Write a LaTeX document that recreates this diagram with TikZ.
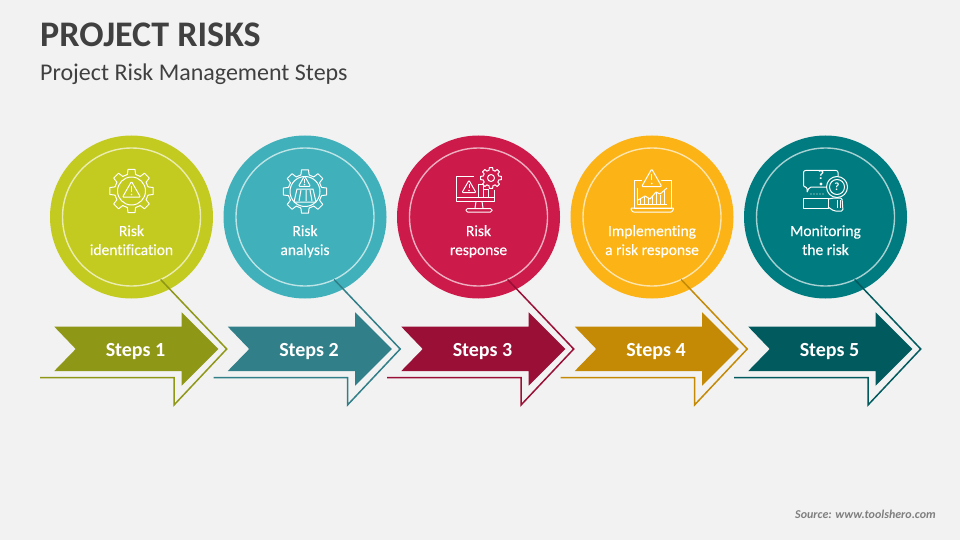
\documentclass[tikz,border=0pt]{standalone}
\usepackage{fontspec}
\setmainfont[Ligatures=CommonOff]{Carlito}
\newfontfamily\riskfont[Ligatures=CommonOff,FakeBold=0.3]{Carlito}
\usetikzlibrary{calc}
\definecolor{pagebg}{HTML}{F2F2F2}
\definecolor{titlegray}{HTML}{404040}
\definecolor{srcgray}{HTML}{7F7F7F}
\definecolor{fillA}{HTML}{C3CA20}
\definecolor{fillB}{HTML}{40B0BA}
\definecolor{fillC}{HTML}{CC1A4A}
\definecolor{fillD}{HTML}{FBB316}
\definecolor{fillE}{HTML}{007B7F}
\definecolor{darkA}{HTML}{8F9716}
\definecolor{darkB}{HTML}{317F88}
\definecolor{darkC}{HTML}{990F35}
\definecolor{darkD}{HTML}{C48A05}
\definecolor{darkE}{HTML}{005A5E}
\tikzset{
  bigcirc/.style={circle,minimum size=163pt,inner sep=0pt,outer sep=0pt},
  ringcirc/.style={circle,minimum size=138pt,inner sep=0pt,outer sep=0pt,draw=white,draw opacity=0.65,line width=1.4pt},
  risklabel/.style={text=white,align=center,anchor=base,inner sep=0pt,font=\riskfont\fontsize{15.5}{19}\selectfont},
  steplabel/.style={text=white,anchor=base,inner sep=0pt,font=\fontsize{20}{24}\selectfont\bfseries},
  iconline/.style={draw=white,line width=1pt,line join=round},
  leader/.style={line width=1.5pt,line join=miter}
}
% gear: centre x, y, outer radius, body radius
\newcommand{\gearicon}[4]{
  \draw[iconline,shift={(#1,#2)}] (-14:#4)
    \foreach \k in {0,...,7}{ -- ({45*\k-14}:#4) -- ({45*\k-9}:#3) -- ({45*\k+9}:#3) -- ({45*\k+14}:#4)} -- cycle;
}
% warning triangle: centre x, y, half width
\newcommand{\warnicon}[3]{
  \begin{scope}[shift={(#1,#2)}]
    \draw[iconline,rounded corners=1pt] (0,{-0.95*#3}) -- (#3,{0.8*#3}) -- (-#3,{0.8*#3}) -- cycle;
    \draw[iconline] (0,{-0.4*#3}) -- (0,{0.2*#3});
    \fill[white] (0,{0.5*#3}) circle (0.9);
  \end{scope}
}
\begin{document}
\begin{tikzpicture}[x=1pt,y=-1pt]
  \fill[pagebg] (0,0) rectangle (960,540);
  \useasboundingbox (0,0) rectangle (960,540);
  \node[anchor=west,inner sep=0pt,text=titlegray,font=\fontsize{36}{40}\selectfont\bfseries] (title) at (40,34.5) {PROJECT RISKS};
  \node[anchor=west,inner sep=0pt,text=titlegray,font=\fontsize{24}{28}\selectfont] (subtitle) at (40,74) {Project Risk Management Steps};
  \node[anchor=east,inner sep=0pt,text=srcgray,font=\fontsize{12}{14}\selectfont\bfseries\itshape] (source) at (936,514) {Source: www.toolshero.com};

  \foreach \i/\fillc/\darkc/\txt in {
    0/fillA/darkA/{Risk\\identification},
    1/fillB/darkB/{Risk\\analysis},
    2/fillC/darkC/{Risk\\response},
    3/fillD/darkD/{Implementing\\a risk response},
    4/fillE/darkE/{Monitoring\\the risk}}{
    \begin{scope}[shift={({\i*173.5},0)}]
      \node[bigcirc,fill=\fillc] (circ\i) at (131.5,217) {};
      \node[ringcirc] (ring\i) at (circ\i) {};
      \node[risklabel] (label\i) at (131.5,255) {\txt};
      % arrow body
      \fill[\darkc] (54.3,326.7) -- (181.7,326.7) -- (181.7,312.3) -- (218.3,349)
        -- (181.7,385.7) -- (181.7,371) -- (54.3,371) -- (75.7,349) -- cycle;
      \node[steplabel] (steps\i) at (135.5,356) {Steps \the\numexpr\i+1\relax};
      % outline from the ring round the arrow
      \coordinate (tip\i) at (226.7,349);
      \coordinate (foot\i) at (174,405);
      \coordinate (bend\i) at (174,377.5);
      \coordinate (tail\i) at (40,377.5);
      \draw[leader,\darkc] (ring\i.-65) -- (tip\i) -- (foot\i) -- (bend\i) -- (tail\i);
    \end{scope}
  }

  % icon 1
  \gearicon{131.5}{191}{22}{17}
  \draw[iconline] (131.5,191) circle (14);
  \warnicon{131.5}{190}{9}

  % icon 2
  \gearicon{305}{191.5}{22}{17}
  \draw[iconline] (305,191.5) circle (15);
  \warnicon{304.5}{181.5}{6}
  \draw[iconline] (297,189) -- (313,189) -- (316,202) -- (294,202) -- cycle;
  \draw[iconline] (301,190) -- (299,201) (306,190) -- (306,201) (310,190) -- (312,201);

  % icon 3
  \draw[iconline] (474,176.7) -- (456.5,176.7) -- (456.5,201.5) -- (494,201.5) -- (494,190);
  \draw[iconline] (456.5,197) -- (494,197);
  \draw[iconline] (476,201.5) -- (475,208) (482,201.5) -- (483,208);
  \draw[iconline,rounded corners=1.5pt] (466,208.5) rectangle (492,212);
  \warnicon{469}{187}{7}
  \draw[iconline] (478,197) -- (478,184) -- (483,184) -- (483,197) (483,189) -- (488,189) -- (488,197);
  \gearicon{491}{178}{10.5}{8}
  \draw[iconline] (491,178) circle (3.5);

  % icon 4
  \draw[iconline] (642,181) -- (634,181) -- (634,208) -- (671,208) -- (671,181) -- (661,181);
  \draw[iconline,rounded corners=1pt] (630.5,208) -- (674,208) -- (672,212) -- (632.5,212) -- cycle;
  \warnicon{651.7}{178.5}{10}
  \draw[iconline] (637,188) -- (637,204) -- (667,204);
  \draw[iconline] (638,200) -- (645,196) -- (650,199) -- (656,192) -- (660,194) -- (667,188);
  \draw[iconline,line width=0.7pt] (640,198) -- (640,204) (644,197) -- (644,204) (648,198) -- (648,204)
    (652,196) -- (652,204) (656,193) -- (656,204) (660,195) -- (660,204) (664,191) -- (664,204);

  % icon 5
  \draw[iconline,rounded corners=2pt] (827,187) -- (809,187) -- (807,193) -- (807,187) -- (803.5,187)
    -- (803.5,170.5) -- (838,170.5) -- (838,176);
  \node[inner sep=0pt,text=white,font=\fontsize{13}{15}\selectfont\bfseries] (askA) at (821,175.5) {?};
  \fill[white] (821,184) circle (1.6);
  \foreach \dx in {0,3,6,9,12}{
    \fill[white] ({811+\dx},194) circle (0.7);
  }
  \draw[iconline] (837,187) circle (10.5);
  \draw[iconline] (837,187) circle (7.5);
  \node[inner sep=0pt,text=white,font=\fontsize{11}{13}\selectfont\bfseries] (askB) at (837,187) {?};
  \draw[iconline] (803.5,198) rectangle (828,208);
  \draw[iconline,rounded corners=1.5pt] (828,199) -- (834,198) -- (842,198) -- (843,211) -- (834,211) -- (828,207);
  \draw[iconline] (837,200) -- (837,208) (840,200) -- (840,208);
\end{tikzpicture}
\end{document}
